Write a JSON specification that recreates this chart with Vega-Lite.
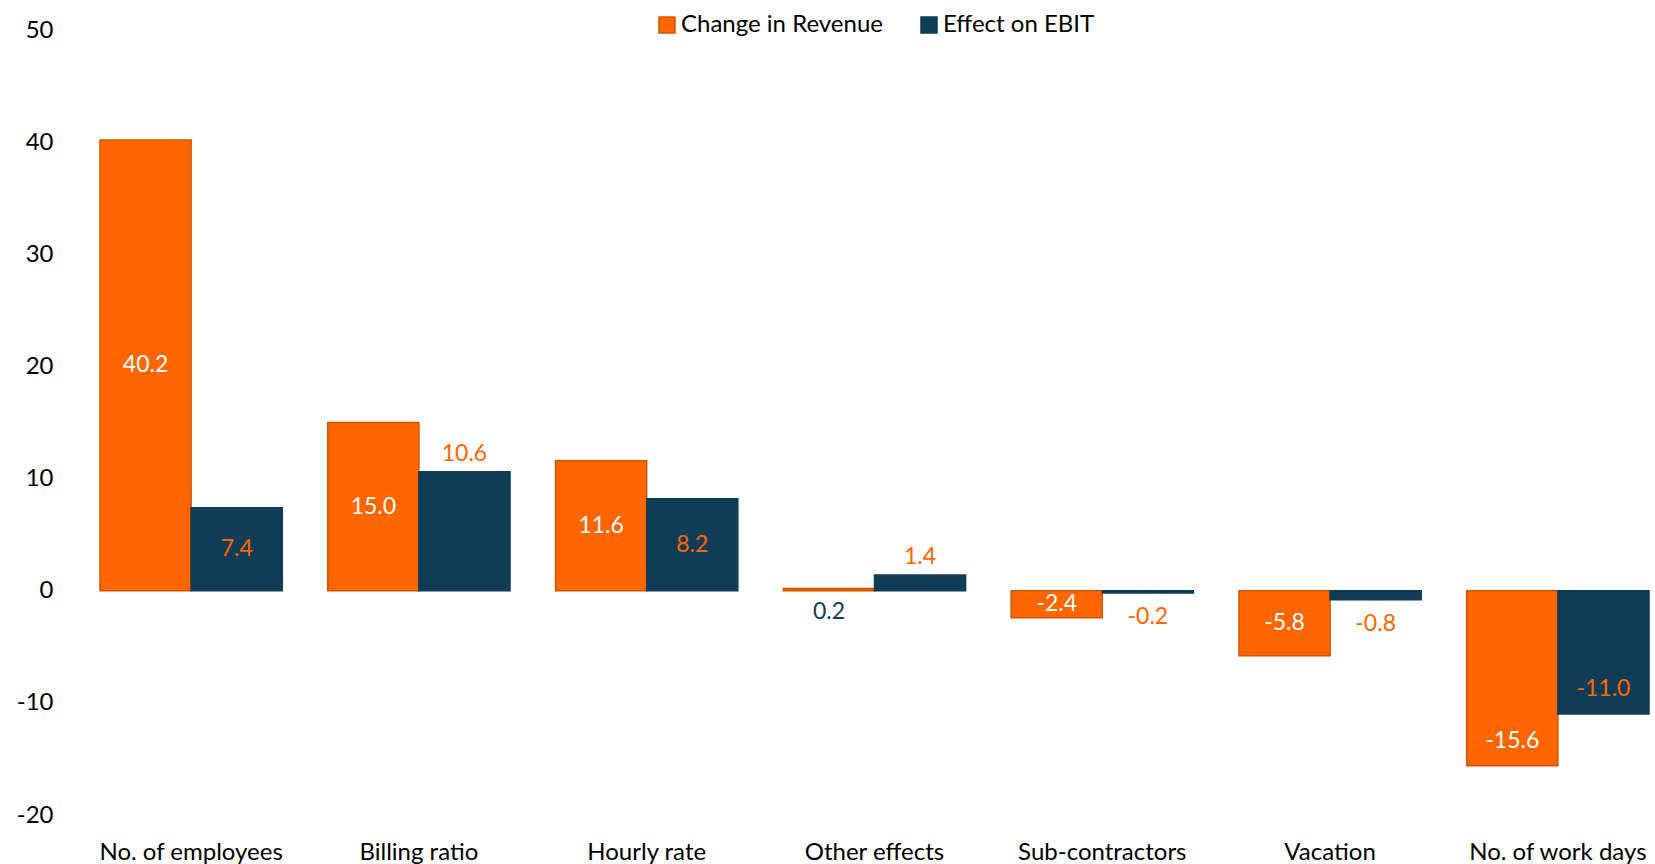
{
  "$schema": "https://vega.github.io/schema/vega-lite/v6.json",
  "width": 1549,
  "height": 785,
  "autosize": {"type": "none"},
  "padding": {"left": 100, "top": 30, "right": 6, "bottom": 49},
  "config": {
    "view": {"stroke": null},
    "font": "Lato",
    "locale": {"number": {"decimal": ".", "thousands": ",", "grouping": [3], "currency": ["$", ""], "minus": "-"}}
  },
  "data": {
    "values": [
      {"category": "No. of employees", "series": "Change in Revenue", "value": 40.2},
      {"category": "No. of employees", "series": "Effect on EBIT", "value": 7.4},
      {"category": "Billing ratio", "series": "Change in Revenue", "value": 15.0},
      {"category": "Billing ratio", "series": "Effect on EBIT", "value": 10.6},
      {"category": "Hourly rate", "series": "Change in Revenue", "value": 11.6},
      {"category": "Hourly rate", "series": "Effect on EBIT", "value": 8.2},
      {"category": "Other effects", "series": "Change in Revenue", "value": 0.2},
      {"category": "Other effects", "series": "Effect on EBIT", "value": 1.4},
      {"category": "Sub-contractors", "series": "Change in Revenue", "value": -2.4},
      {"category": "Sub-contractors", "series": "Effect on EBIT", "value": -0.2},
      {"category": "Vacation", "series": "Change in Revenue", "value": -5.8},
      {"category": "Vacation", "series": "Effect on EBIT", "value": -0.8},
      {"category": "No. of work days", "series": "Change in Revenue", "value": -15.6},
      {"category": "No. of work days", "series": "Effect on EBIT", "value": -11.0}
    ]
  },
  "encoding": {
    "x": {
      "field": "category", "type": "nominal", "sort": null,
      "scale": {"paddingInner": 0.2, "paddingOuter": 0},
      "axis": {"title": null, "labelAngle": 0, "ticks": false, "domain": false, "labelFontSize": 24, "labelColor": "#000000", "labelPadding": 25, "labelFont": "Lato", "labelLimit": 400}
    },
    "xOffset": {
      "field": "series", "type": "nominal", "sort": ["Change in Revenue", "Effect on EBIT"],
      "scale": {"paddingInner": 0, "paddingOuter": 0}
    }
  },
  "layer": [
    {
      "mark": {"type": "bar", "strokeWidth": 1.5},
      "encoding": {
        "y": {
          "field": "value", "type": "quantitative",
          "scale": {"domain": [-20, 50], "nice": false, "zero": true},
          "axis": {"title": null, "values": [-20, -10, 0, 10, 20, 30, 40, 50], "grid": false, "ticks": false, "domain": false, "labelFontSize": 24, "labelPadding": 47, "labelColor": "#000000", "labelFont": "Lato"}
        },
        "color": {
          "field": "series", "type": "nominal",
          "scale": {"domain": ["Change in Revenue", "Effect on EBIT"], "range": ["#FF6600", "#0F3D56"]},
          "legend": {"title": null, "orient": "none", "legendX": 555, "legendY": -17, "direction": "horizontal", "symbolType": "square", "symbolSize": 256, "labelFontSize": 24, "labelFont": "Lato", "labelColor": "#000000", "labelLimit": 400, "columnPadding": 34, "labelOffset": 2, "symbolStrokeWidth": 1.5}
        },
        "stroke": {
          "field": "series", "type": "nominal",
          "scale": {"domain": ["Change in Revenue", "Effect on EBIT"], "range": ["#D35400", "#0F3D56"]},
          "legend": {"title": null, "orient": "none", "legendX": 555, "legendY": -17, "direction": "horizontal", "symbolType": "square", "symbolSize": 256, "labelFontSize": 24, "labelFont": "Lato", "labelColor": "#000000", "labelLimit": 400, "columnPadding": 34, "labelOffset": 2, "symbolStrokeWidth": 1.5}
        }
      }
    },
    {
      "transform": [
        {"filter": "(datum.series==='Change in Revenue' && indexof(['No. of employees','Billing ratio','Hourly rate','Sub-contractors','Vacation'], datum.category)>=0) || (datum.series==='Effect on EBIT' && indexof(['No. of employees','Hourly rate'], datum.category)>=0)"},
        {"calculate": "datum.value/2", "as": "mid"}
      ],
      "mark": {"type": "text", "fontSize": 23, "font": "Lato", "baseline": "middle", "align": "center"},
      "encoding": {
        "y": {"field": "mid", "type": "quantitative", "axis": {"title": null, "values": [-20, -10, 0, 10, 20, 30, 40, 50], "grid": false, "ticks": false, "domain": false, "labelFontSize": 24, "labelPadding": 47, "labelColor": "#000000", "labelFont": "Lato"}},
        "text": {"field": "value", "type": "quantitative", "format": ".1f"},
        "color": {"condition": [{"test": "datum.series==='Effect on EBIT'", "value": "#FF6600"}, {"test": "datum.category==='Other effects'", "value": "#0F3D56"}], "value": "#FFFFFF"}
      }
    },
    {
      "transform": [
        {"filter": "datum.series==='Effect on EBIT' && (datum.category==='Billing ratio' || datum.category==='Other effects')"}
      ],
      "mark": {"type": "text", "fontSize": 23, "font": "Lato", "baseline": "middle", "align": "center", "dy": -18},
      "encoding": {
        "y": {"field": "value", "type": "quantitative", "axis": {"title": null, "values": [-20, -10, 0, 10, 20, 30, 40, 50], "grid": false, "ticks": false, "domain": false, "labelFontSize": 24, "labelPadding": 47, "labelColor": "#000000", "labelFont": "Lato"}},
        "text": {"field": "value", "type": "quantitative", "format": ".1f"},
        "color": {"condition": [{"test": "datum.series==='Effect on EBIT'", "value": "#FF6600"}, {"test": "datum.category==='Other effects'", "value": "#0F3D56"}], "value": "#FFFFFF"}
      }
    },
    {
      "transform": [
        {"filter": "(datum.series==='Effect on EBIT' && (datum.category==='Sub-contractors' || datum.category==='Vacation')) || (datum.series==='Change in Revenue' && datum.category==='Other effects')"}
      ],
      "mark": {"type": "text", "fontSize": 23, "font": "Lato", "baseline": "middle", "align": "center", "dy": 24},
      "encoding": {
        "y": {"field": "value", "type": "quantitative", "axis": {"title": null, "values": [-20, -10, 0, 10, 20, 30, 40, 50], "grid": false, "ticks": false, "domain": false, "labelFontSize": 24, "labelPadding": 47, "labelColor": "#000000", "labelFont": "Lato"}},
        "text": {"field": "value", "type": "quantitative", "format": ".1f"},
        "color": {"condition": [{"test": "datum.series==='Effect on EBIT'", "value": "#FF6600"}, {"test": "datum.category==='Other effects'", "value": "#0F3D56"}], "value": "#FFFFFF"}
      }
    },
    {
      "transform": [
        {"filter": "datum.category==='No. of work days'"}
      ],
      "mark": {"type": "text", "fontSize": 23, "font": "Lato", "baseline": "middle", "align": "center", "dy": -25},
      "encoding": {
        "y": {"field": "value", "type": "quantitative", "axis": {"title": null, "values": [-20, -10, 0, 10, 20, 30, 40, 50], "grid": false, "ticks": false, "domain": false, "labelFontSize": 24, "labelPadding": 47, "labelColor": "#000000", "labelFont": "Lato"}},
        "text": {"field": "value", "type": "quantitative", "format": ".1f"},
        "color": {"condition": [{"test": "datum.series==='Effect on EBIT'", "value": "#FF6600"}, {"test": "datum.category==='Other effects'", "value": "#0F3D56"}], "value": "#FFFFFF"}
      }
    }
  ]
}
